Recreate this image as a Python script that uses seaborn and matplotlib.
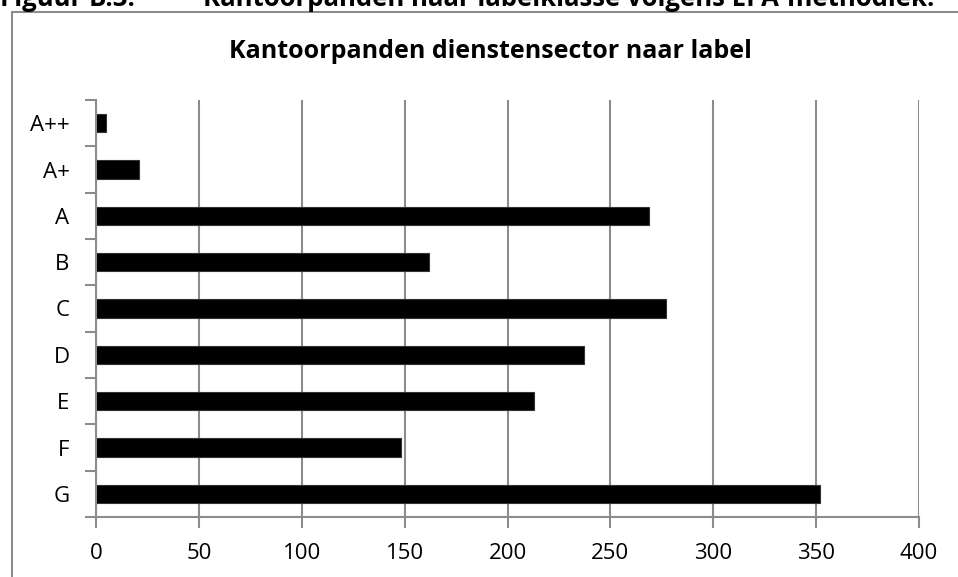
import matplotlib
matplotlib.use("Agg")
import matplotlib.pyplot as plt
from matplotlib.lines import Line2D
import seaborn as sns
import pandas as pd

categories = ["A++", "A+", "A", "B", "C", "D", "E", "F", "G"]
values = [5, 21, 269, 162, 277, 237, 213, 148, 352]
x_ticks = [0, 50, 100, 150, 200, 250, 300, 350, 400]

title = "Kantoorpanden dienstensector naar label"
caption_num = "Figuur B.3:"
caption_text = "Kantoorpanden naar labelklasse volgens EPA-methodiek."

sns.set_theme(style="white")
plt.rcParams["font.family"] = ["Open Sans", "DejaVu Sans"]

W, H = 958, 577
fig = plt.figure(figsize=(W / 100, H / 100), dpi=100)
ax = fig.add_axes([96 / W, (H - 517) / H, (919 - 96) / W, (517 - 100) / H])

df = pd.DataFrame({"label": categories, "count": values})
sns.barplot(data=df, x="count", y="label", orient="h", color="black",
            width=0.39, ax=ax, saturation=1, edgecolor="#333333", linewidth=0.8)

grid_c = "#8c8c8c"
ax.set_xlim(0, 400)
ax.set_ylim(len(categories) - 0.5, -0.5)
ax.set_xticks(x_ticks)
ax.set_xticklabels([str(t) for t in x_ticks])
ax.set_xlabel("")
ax.set_ylabel("")
ax.xaxis.grid(True, color=grid_c, linewidth=1.5)
ax.yaxis.grid(False)
ax.set_axisbelow(True)

for s in ["top", "right"]:
    ax.spines[s].set_visible(False)
for s in ["left", "bottom"]:
    ax.spines[s].set_color(grid_c)
    ax.spines[s].set_linewidth(1.5)

ax.tick_params(axis="x", which="major", bottom=True, length=8, width=1.5,
               color=grid_c, labelsize=16, pad=11, labelcolor="black")
ax.set_yticks(range(len(categories)))
ax.set_yticklabels(categories)
ax.set_yticks([i - 0.5 for i in range(len(categories) + 1)], minor=True)
ax.tick_params(axis="y", which="major", left=False, labelsize=16, pad=13,
               labelcolor="black")
ax.tick_params(axis="y", which="minor", left=True, length=8, width=1.5,
               color=grid_c)

fig.text(490 / W, 1 - 51 / H, title, ha="center", va="center",
         fontsize=18, fontweight="bold", color="black")

fig.text(0, 1 - 6 / H, caption_num, ha="left", va="baseline",
         fontsize=18.5, fontweight="bold", color="black")
fig.text(203 / W, 1 - 6 / H, caption_text, ha="left", va="baseline",
         fontsize=18.5, fontweight="bold", color="black")

fig.add_artist(Line2D([12 / W, 1.0], [1 - 12 / H, 1 - 12 / H],
                      transform=fig.transFigure, color=grid_c, linewidth=1.5))
fig.add_artist(Line2D([12 / W, 12 / W], [0.0, 1 - 12 / H],
                      transform=fig.transFigure, color=grid_c, linewidth=1.5))

fig.savefig("out.png", dpi=100)
